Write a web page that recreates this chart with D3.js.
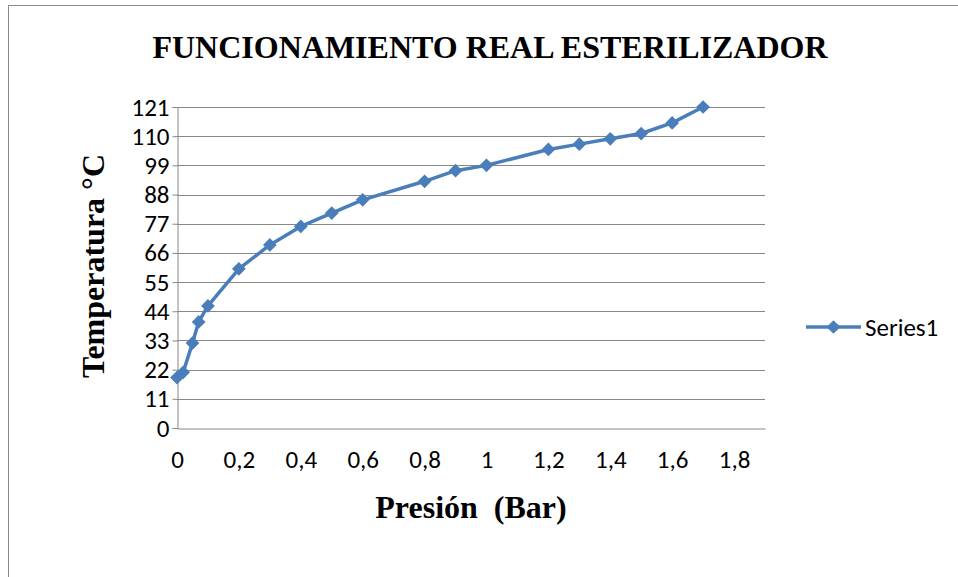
<!DOCTYPE html>
<html>
<head>
<meta charset="utf-8">
<script src="https://cdn.jsdelivr.net/npm/d3@7"></script>
<style>
  html, body { margin: 0; padding: 0; background: #fff; }
  svg { display: block; }
  text { white-space: pre; }
</style>
</head>
<body>
<svg id="chart" width="958" height="577"></svg>
<script>
// Pressure (bar) vs temperature (°C) readings of the sterilizer
const presion = [0, 0.02, 0.05, 0.07, 0.1, 0.2, 0.3, 0.4, 0.5, 0.6, 0.8, 0.9, 1, 1.2, 1.3, 1.4, 1.5, 1.6, 1.7];
const temperatura = [19, 21, 32, 40, 46, 60, 69, 76, 81, 86, 93, 97, 99, 105, 107, 109, 111, 115, 121];
const yTicks = [0, 11, 22, 33, 44, 55, 66, 77, 88, 99, 110, 121];
const xTicks = [0, 0.2, 0.4, 0.6, 0.8, 1, 1.2, 1.4, 1.6, 1.8];
const seriesName = "Series1";
const title = "FUNCIONAMIENTO REAL ESTERILIZADOR";
const xTitle = "Presión  (Bar)";
const yTitle = "Temperatura °C";

const svg = d3.select("#chart");
const blue = "#4a7ebb";
const grid = "#878787";
const tickFont = "Carlito, Lato, 'Open Sans', sans-serif";
const titleFont = "'Liberation Serif', 'Times New Roman', serif";
const plot = { left: 177, right: 765, top: 107, bottom: 428 };

// chart frame
svg.append("rect")
  .attr("x", 8.5).attr("y", 5.5).attr("width", 1000).attr("height", 1000)
  .attr("fill", "none").attr("stroke", "#8c8c8c").attr("stroke-width", 1);

const x = d3.scaleLinear().domain([0, 1.9]).range([plot.left, plot.right]);
const y = d3.scaleLinear().domain([0, 121]).range([plot.bottom, plot.top]);

// horizontal gridlines
svg.append("g")
  .selectAll("line").data(yTicks.slice(1)).join("line")
  .attr("x1", plot.left).attr("x2", plot.right)
  .attr("y1", d => Math.round(y(d)) + 0.5).attr("y2", d => Math.round(y(d)) + 0.5)
  .attr("stroke", grid).attr("stroke-width", 1);

// y axis
const yAxis = svg.append("g")
  .attr("transform", `translate(${plot.left + 0.5},0)`)
  .call(d3.axisLeft(y).tickValues(yTicks).tickSize(5).tickPadding(3));
yAxis.select(".domain").attr("stroke", grid);
yAxis.selectAll(".tick line").attr("stroke", grid);
yAxis.selectAll("text")
  .attr("font-family", tickFont)
  .attr("font-size", 25).attr("fill", "#000");

// x axis
const xAxis = svg.append("g")
  .attr("transform", `translate(0,${Math.round(plot.bottom) + 0.5})`)
  .call(d3.axisBottom(x).tickValues(xTicks).tickSize(0).tickPadding(22)
    .tickFormat(d => d3.format("~g")(d).replace(".", ",")));
xAxis.select(".domain").attr("stroke", grid);
xAxis.selectAll("text")
  .attr("font-family", tickFont)
  .attr("font-size", 25).attr("fill", "#000");

// data line
const pts = presion.map((p, i) => [p, temperatura[i]]);
svg.append("path")
  .datum(pts)
  .attr("fill", "none").attr("stroke", blue).attr("stroke-width", 3.5)
  .attr("stroke-linejoin", "round")
  .attr("d", d3.line().x(d => x(d[0])).y(d => y(d[1])));

const diamond = d3.symbol().type(d3.symbolDiamond2).size(120);
svg.append("g")
  .selectAll("path").data(pts).join("path")
  .attr("transform", d => `translate(${x(d[0])},${y(d[1])})`)
  .attr("d", diamond).attr("fill", blue);

// titles
svg.append("text")
  .attr("x", 490).attr("y", 58).attr("text-anchor", "middle")
  .attr("font-family", titleFont)
  .attr("font-weight", "bold").attr("font-size", 32)
  .text(title);

svg.append("text")
  .attr("x", 471).attr("y", 518).attr("text-anchor", "middle")
  .attr("font-family", titleFont)
  .attr("font-weight", "bold").attr("font-size", 32)
  .text(xTitle);

svg.append("text")
  .attr("transform", "translate(104,266) rotate(-90)")
  .attr("text-anchor", "middle")
  .attr("font-family", titleFont)
  .attr("font-weight", "bold").attr("font-size", 32)
  .text(yTitle);

// legend
const lg = svg.append("g").attr("transform", "translate(806,327)");
lg.append("line").attr("x1", 0).attr("x2", 55).attr("y1", 0).attr("y2", 0)
  .attr("stroke", blue).attr("stroke-width", 3.5);
lg.append("path").attr("transform", "translate(27.5,0)").attr("d", diamond).attr("fill", blue);
lg.append("text").attr("x", 59).attr("y", 9)
  .attr("font-family", tickFont)
  .attr("font-size", 25).attr("fill", "#000")
  .text(seriesName);
</script>
</body>
</html>
